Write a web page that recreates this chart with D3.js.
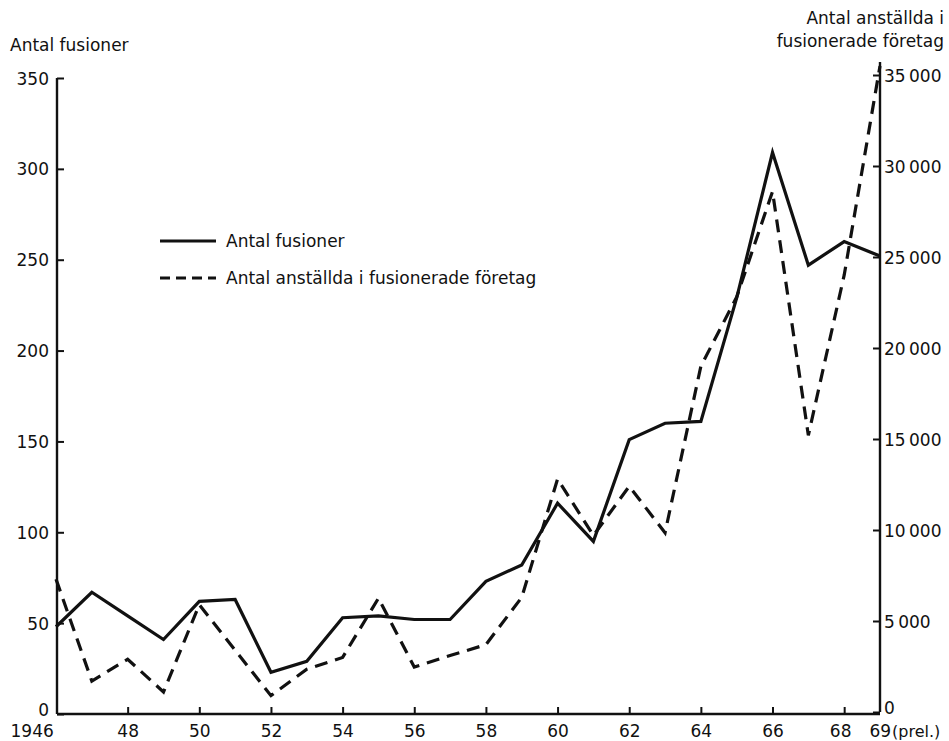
<!DOCTYPE html>
<html><head><meta charset="utf-8">
<script src="https://cdn.jsdelivr.net/npm/d3@7"></script>
<style>
body{margin:0;background:#fff;}
svg text{font-family:"DejaVu Sans",sans-serif;fill:#111;}
</style></head>
<body><svg id="c" width="949" height="741"></svg>
<script>
const years = [1946,1947,1948,1949,1950,1951,1952,1953,1954,1955,1956,1957,1958,1959,1960,1961,1962,1963,1964,1965,1966,1967,1968,1969];
const fusioner = [48,67,54,41,62,63,23,29,53,54,52,52,73,82,116,95,151,160,161,229,309,247,260,252];
const anstallda = [7300,1700,2900,1100,5900,3400,900,2350,3000,6250,2470,3100,3700,6300,12800,9700,12400,9850,19000,22800,28600,15200,24000,35500];
const leftTicks = [0,50,100,150,200,250,300,350];
const rightTicks = [0,5000,10000,15000,20000,25000,30000,35000];
const xTickYears = [1946,1948,1950,1952,1954,1956,1958,1960,1962,1964,1966,1968,1969];
const xTickLabels = ["1946","48","50","52","54","56","58","60","62","64","66","68","69"];
const legendLabels = ["Antal fusioner","Antal anställda i fusionerade företag"];

const svg = d3.select("#c");
const x = d3.scaleLinear().domain([1946,1969]).range([56,880]);
const yL = d3.scaleLinear().domain([0,350]).range([714,78]);
const yR = d3.scaleLinear().domain([0,35000]).range([712,75]);
const fs = 17;

// left axis
const gL = svg.append("g").attr("transform","translate(57,0)");
gL.call(d3.axisLeft(yL).tickValues(leftTicks).tickSizeInner(-7).tickSizeOuter(0).tickPadding(16).tickFormat(d3.format("d")));
// right axis
const gR = svg.append("g").attr("transform","translate(880,0)");
gR.call(d3.axisRight(yR).tickValues(rightTicks).tickSizeInner(-7).tickSizeOuter(0).tickPadding(11)
  .tickFormat(d => d===0 ? "0" : d3.format(",")(d).replace(",", "\u2009")));
// bottom axis
const gB = svg.append("g").attr("transform","translate(0,714)");
gB.call(d3.axisBottom(x).tickValues(xTickYears).tickSizeInner(-7).tickSizeOuter(0).tickPadding(11)
  .tickFormat((d,i) => xTickLabels[i]));

[gL,gR,gB].forEach(g => {
  g.select(".domain").attr("stroke","#111").attr("stroke-width",2.4);
  g.selectAll(".tick line").attr("stroke","#111").attr("stroke-width",2);
  g.selectAll(".tick text").attr("font-size",fs).attr("font-family","DejaVu Sans").attr("fill","#111");
});
gL.select(".domain").attr("d","M0,714V78");
gR.select(".domain").attr("d","M0,712V62");
gB.select(".domain").attr("d","M57,0H880");
gL.selectAll(".tick text").attr("dy","0.36em").attr("x",-8);
gL.selectAll(".tick").filter(d=>d===0).select("text").attr("dy","0.1em");
gR.selectAll(".tick text").attr("dy","0.36em").attr("x",4);
gR.selectAll(".tick").filter(d=>d===0).select("text").attr("dy","0.1em");
gB.selectAll(".tick text").attr("dy","0.71em");
gB.selectAll(".tick").filter(d=>d===1946).select("text").attr("text-anchor","start").attr("dx",-46);
gB.selectAll(".tick").filter(d=>d===1969).select("text").attr("text-anchor","start").attr("dx",-11);
gB.selectAll(".tick").filter(d=>d===1968).select("text").attr("dx",-4);
gB.selectAll(".tick").filter(d=>d===1946).select("line").remove();
gB.selectAll(".tick").filter(d=>d===1969).select("line").remove();
svg.append("text").attr("x",892).attr("y",737).attr("font-size",16).text("(prel.)");

// lines
const lineL = d3.line().x((d,i)=>x(years[i])).y(d=>yL(d));
const lineR = d3.line().x((d,i)=>x(years[i])).y(d=>yR(d));
svg.append("path").datum(fusioner).attr("d",lineL).attr("fill","none").attr("stroke","#111").attr("stroke-width",3.2).attr("stroke-linejoin","miter");
svg.append("path").datum(anstallda).attr("d",lineR).attr("fill","none").attr("stroke","#111").attr("stroke-width",3.2).attr("stroke-dasharray","13,8");

// titles
svg.append("text").attr("x",10).attr("y",51).attr("font-size",fs).text("Antal fusioner");
svg.append("text").attr("x",944).attr("y",24).attr("text-anchor","end").attr("font-size",fs).text("Antal anställda i");
svg.append("text").attr("x",944).attr("y",47).attr("text-anchor","end").attr("font-size",fs).text("fusionerade företag");

// legend
const leg = svg.append("g");
[0,1].forEach(i => {
  const yy = 241 + i*37;
  leg.append("line").attr("x1",160).attr("x2",216).attr("y1",yy).attr("y2",yy)
    .attr("stroke","#111").attr("stroke-width",3).attr("stroke-dasharray", i ? "10,6" : null);
  leg.append("text").attr("x",226).attr("y",yy+6).attr("font-size",fs).text(legendLabels[i]);
});
</script></body></html>
